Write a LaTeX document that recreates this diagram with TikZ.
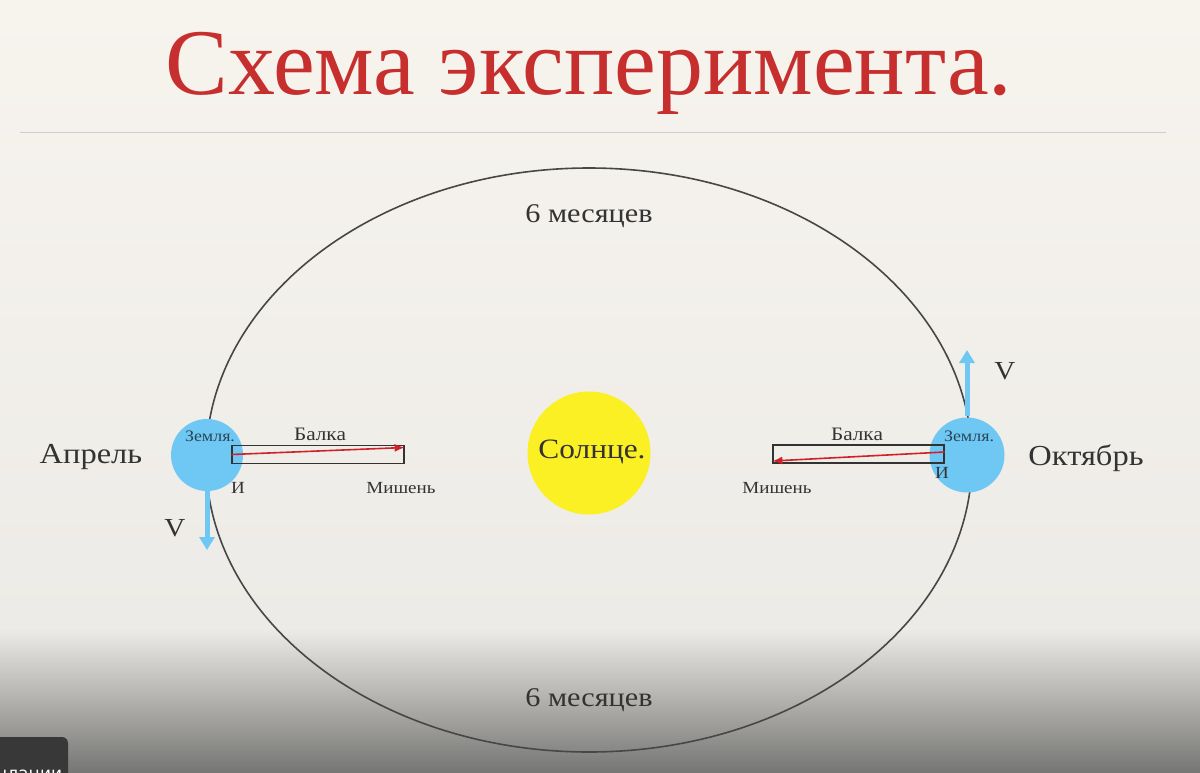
\documentclass[tikz,border=0pt]{standalone}
\usepackage{fontspec}
\setmainfont{Liberation Serif}
\newfontfamily\widefont{Liberation Serif}[FakeStretch=1.12]
\setsansfont{DejaVu Sans}
\usetikzlibrary{arrows.meta}
\definecolor{bgtop}{HTML}{F7F4EE}
\definecolor{bgmid}{HTML}{EDEBE7}
\definecolor{bgbot}{HTML}{767674}
\definecolor{titlered}{HTML}{C62F2E}
\definecolor{earthblue}{HTML}{6FC8F4}
\definecolor{earthtext}{HTML}{2A4656}
\definecolor{sunyellow}{HTML}{FAF024}
\definecolor{ink}{HTML}{333333}
\definecolor{beamred}{HTML}{D0202A}
\tikzset{
  lbl/.style={text=ink, inner sep=0pt, font=\widefont\fontsize{#1}{#1}\selectfont},
  earth/.style={circle, fill=earthblue, minimum size=72pt, inner sep=0pt},
  beambox/.style={draw=ink, line width=1.2pt, minimum height=18pt, inner sep=0pt},
  beamarrow/.style={draw=beamred, line width=1.6pt, -{Latex[length=10pt,width=8pt]}},
  velarrow/.style={draw=earthblue, line width=5pt, -{Triangle[length=13pt,width=15pt]}},
}
\begin{document}
\begin{tikzpicture}[x=1pt,y=-1pt]
\useasboundingbox (0,0) rectangle (1200,772);
% background
\shade[top color=bgtop, bottom color=bgmid] (0,0) rectangle (1200,630);
\shade[top color=bgmid, bottom color=bgbot] (0,629) rectangle (1200,772);
% title
\node[text=titlered, inner sep=0pt, anchor=base, font=\fontsize{94}{94}\selectfont] (title) at (589,94) {Схема эксперимента.};
\draw[draw=black!20, line width=1pt] (20,132) -- (1166,132);
% orbit
\draw[draw=ink!90, line width=1.6pt] (589,460) ellipse [x radius=383, y radius=292];
\node[lbl=27] (top6) at (589,216) {6 месяцев};
\node[lbl=27] (bot6) at (589,700) {6 месяцев};
% sun
\node[circle, fill=sunyellow, minimum size=123pt, inner sep=0pt] (sun) at (589,453) {};
\node[lbl=28, text=black!80] (sunlbl) at (592,452) {Солнце.};
% left earth
\node[earth] (earthL) at (207,455) {};
\node[lbl=16, text=earthtext] (zemL) at (210,436) {Земля.};
\node[beambox, minimum width=172pt] (beamL) at (318,454.5) {};
\coordinate (srcL) at ([yshift=0pt]beamL.west);
\coordinate (tgtL) at ([yshift=7pt]beamL.east);
\draw[beamarrow] (srcL) -- (tgtL);
\node[lbl=19] (balkaL) at (320,434) {Балка};
\node[lbl=17] (iL) at (238,488) {И};
\node[lbl=17] (mishL) at (401,488) {Мишень};
\coordinate (vLend) at (207,550);
\draw[velarrow] (earthL.south) -- (vLend);
\node[lbl=26] (vL) at (175,528) {V};
\node[lbl=29] (april) at (91,457) {Апрель};
% right earth
\node[earth, minimum size=75pt] (earthR) at (967,455) {};
\node[lbl=16, text=earthtext] (zemR) at (969,436) {Земля.};
\node[beambox, minimum width=171pt] (beamR) at (858.5,454) {};
\coordinate (srcR) at ([yshift=2pt]beamR.east);
\coordinate (tgtR) at ([yshift=-7pt]beamR.west);
\draw[beamarrow] (srcR) -- (tgtR);
\node[lbl=19] (balkaR) at (857,434) {Балка};
\node[lbl=17] (iR) at (942,473) {И};
\node[lbl=17] (mishR) at (777,488) {Мишень};
\coordinate (vRend) at (967,350);
\draw[velarrow] ([yshift=1pt]earthR.north) -- (vRend);
\node[lbl=26] (vR) at (1005,371) {V};
\node[lbl=29] (oct) at (1086,458) {Октябрь};
% bottom-left overlay
\begin{scope}
\clip (0,737) rectangle (68,772);
\fill[fill=black!78, rounded corners=6pt] (-10,737) rectangle (68,790);
\node[text=white, inner sep=0pt, anchor=base west, font=\sffamily\fontsize{17}{17}\selectfont] (ovl) at (-4,779) {нлации};
\end{scope}
\end{tikzpicture}
\end{document}
